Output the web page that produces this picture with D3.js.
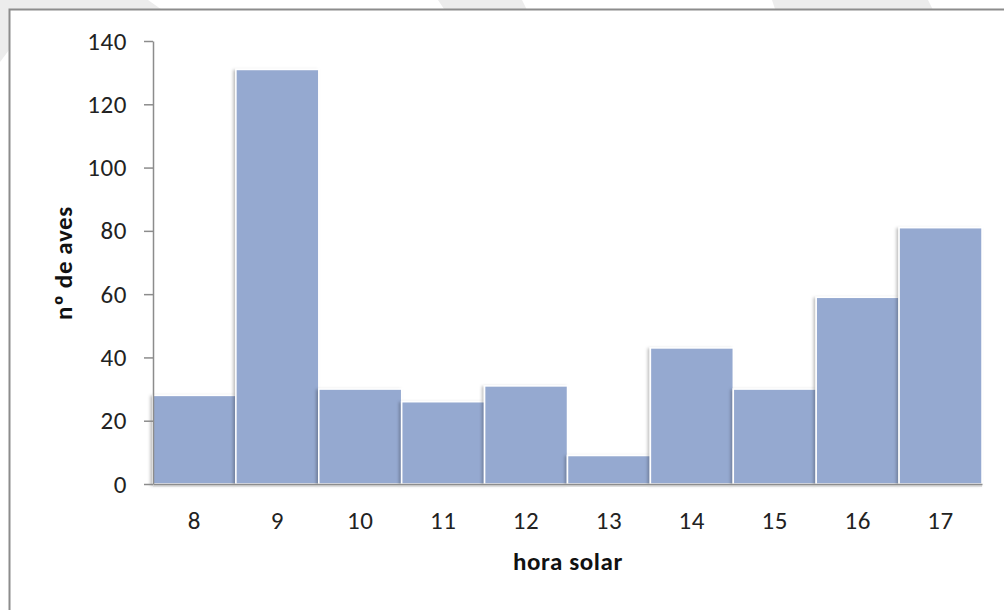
<!DOCTYPE html>
<html>
<head>
<meta charset="utf-8">
<script src="https://cdn.jsdelivr.net/npm/d3@7"></script>
<style>
  html, body { margin: 0; padding: 0; background: #ffffff; overflow: hidden; }
  svg { display: block; }
</style>
</head>
<body>
<svg id="chart" width="1004" height="610"></svg>
<script>
// ---- data ----
const categories = ["8", "9", "10", "11", "12", "13", "14", "15", "16", "17"];
const values = [28, 131, 30, 26, 31, 9, 43, 30, 59, 81];
const yTicks = [0, 20, 40, 60, 80, 100, 120, 140];
const xTitle = "hora solar";
const yTitle = "nº de aves";

const svg = d3.select("#chart");
const FONT = "Carlito, Lato, 'Open Sans', sans-serif";

// faint background watermark bands
const bg = svg.append("g").attr("fill", "#ececec");
bg.append("polygon").attr("points", "0,0 148,0 165,12 9,12 9,50 0,62");
bg.append("polygon").attr("points", "438,0 522,0 528,12 446,12");
bg.append("polygon").attr("points", "772,0 928,0 934,12 776,12");

// chart frame
svg.append("rect")
  .attr("x", 9.5).attr("y", 9.5)
  .attr("width", 1010).attr("height", 620)
  .attr("fill", "#ffffff")
  .attr("stroke", "#8c8c8c").attr("stroke-width", 2);

const defs = svg.append("defs");
const f = defs.append("filter").attr("id", "shadow")
  .attr("x", "-10%").attr("y", "-10%").attr("width", "120%").attr("height", "120%");
f.append("feDropShadow").attr("dx", -2).attr("dy", 1).attr("stdDeviation", 1.5)
  .attr("flood-color", "#000").attr("flood-opacity", 0.25);

const mLeft = 153, mRight = 982, mTop = 41, mBottom = 484;

const x = d3.scaleBand().domain(categories).range([mLeft, mRight]).padding(0);
const y = d3.scaleLinear().domain([0, 140]).range([mBottom, mTop]);

// bars
svg.append("g").selectAll("rect")
  .data(values)
  .join("rect")
  .attr("x", (d, i) => x(categories[i]))
  .attr("y", d => y(d))
  .attr("width", x.bandwidth())
  .attr("height", d => y(0) - y(d))
  .attr("fill", "#95a9d0")
  .attr("stroke", "#ffffff")
  .attr("stroke-width", 1.5)
  .attr("filter", "url(#shadow)");

// y axis
const yAxis = svg.append("g")
  .attr("transform", `translate(${mLeft},0)`)
  .call(d3.axisLeft(y).tickValues(yTicks).tickSize(9).tickPadding(17).tickSizeOuter(0));
yAxis.select(".domain").attr("stroke", "#8c8c8c").attr("stroke-width", 1.5);
yAxis.selectAll(".tick line").attr("stroke", "#8c8c8c").attr("stroke-width", 1.5);
yAxis.selectAll(".tick text")
  .attr("font-family", FONT).attr("font-size", 25).attr("letter-spacing", 0.6).attr("fill", "#222");

// x axis
svg.append("line")
  .attr("x1", mLeft).attr("x2", mRight).attr("y1", mBottom + 2).attr("y2", mBottom + 2)
  .attr("stroke", "#dddddd").attr("stroke-width", 2);
const xAxis = svg.append("g")
  .attr("transform", `translate(0,${mBottom})`)
  .call(d3.axisBottom(x).tickSize(0).tickPadding(27).tickSizeOuter(0));
xAxis.select(".domain").attr("stroke", "#8c8c8c").attr("stroke-width", 1.5);
xAxis.selectAll(".tick text")
  .attr("font-family", FONT).attr("font-size", 25).attr("letter-spacing", 0.6).attr("fill", "#222");

// titles
svg.append("text")
  .attr("x", 568).attr("y", 570)
  .attr("text-anchor", "middle")
  .attr("font-family", FONT).attr("font-size", 25).attr("font-weight", "bold")
  .attr("letter-spacing", 0.6)
  .attr("fill", "#111")
  .text(xTitle);

svg.append("text")
  .attr("transform", "translate(72,263) rotate(-90)")
  .attr("text-anchor", "middle")
  .attr("font-family", FONT).attr("font-size", 25).attr("font-weight", "bold")
  .attr("letter-spacing", 0.6)
  .attr("fill", "#111")
  .text(yTitle);
</script>
</body>
</html>
